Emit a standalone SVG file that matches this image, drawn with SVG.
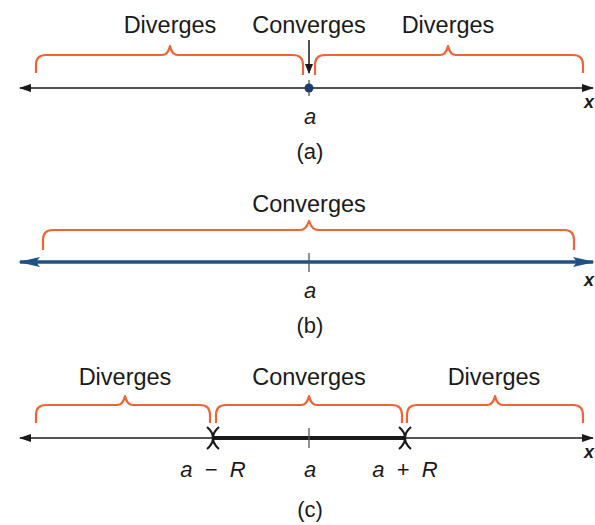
<svg xmlns="http://www.w3.org/2000/svg" width="595" height="525" viewBox="0 0 595 525">
<defs>
<style>
.lbl{font-family:"Liberation Sans",Arial,sans-serif;font-size:23.5px;fill:#1a1a1a;text-anchor:middle}
.var{font-family:"Liberation Sans",Arial,sans-serif;font-size:22px;font-style:italic;fill:#1a1a1a;text-anchor:middle}
.cap{font-family:"Liberation Sans",Arial,sans-serif;font-size:22px;fill:#1a1a1a;text-anchor:middle}
.xl{font-family:"Liberation Sans",Arial,sans-serif;font-size:18px;font-style:italic;font-weight:bold;fill:#1a1a1a}
.brace{fill:none;stroke:#ee6433;stroke-width:2.2;stroke-linejoin:round}
.axis{fill:none;stroke:#1a1a1a;stroke-width:1.6}
.axisb{fill:none;stroke:#1f5185;stroke-width:3.5}
.tick{stroke:#555;stroke-width:1.3}
.mark{fill:none;stroke:#1a1a1a;stroke-width:2.2}
</style>
<marker id="ah" viewBox="0 0 12 8" refX="11" refY="4" markerWidth="12" markerHeight="8" markerUnits="userSpaceOnUse" orient="auto-start-reverse">
<path d="M0,0 L12,4 L0,8 Z" fill="#1a1a1a"/>
</marker>
<marker id="ahb" viewBox="0 0 22 10" refX="20" refY="5" markerWidth="22" markerHeight="10" markerUnits="userSpaceOnUse" orient="auto-start-reverse">
<path d="M0,0 L22,5 L0,10 L4,5 Z" fill="#1f5185"/>
</marker>
<marker id="ahd" viewBox="0 0 10 10" refX="9" refY="5" markerWidth="10" markerHeight="10" markerUnits="userSpaceOnUse" orient="auto">
<path d="M0,1 L10,5 L0,9 Z" fill="#1a1a1a"/>
</marker>
</defs>
<rect width="595" height="525" fill="#fff"/>

<g id="panel-a">
<g id="connectors-a">
<line class="axis" x1="20" y1="88" x2="593" y2="88" marker-start="url(#ah)" marker-end="url(#ah)"/>
<line class="tick" x1="309" y1="80" x2="309" y2="96"/>
<line stroke="#1a1a1a" stroke-width="1.5" x1="309" y1="40" x2="309" y2="73" marker-end="url(#ahd)"/>
</g>
<circle id="point-a" cx="309" cy="88" r="4.5" fill="#1f3d6b"/>
<g id="brace-a-left"><path class="brace" d="M36,73 L36,65 Q36,55 46,55 L162,55 Q168,55 170,46 Q172,55 178,55 L293,55 Q303,55 303,65 L303,75"/><text class="lbl" x="170" y="33">Diverges</text></g>
<g id="brace-a-right"><path class="brace" d="M315,75 L315,65 Q315,55 325,55 L440,55 Q446,55 448,46 Q450,55 456,55 L573,55 Q583,55 583,65 L583,73"/><text class="lbl" x="448" y="33">Diverges</text></g>
<text class="lbl" x="309" y="33">Converges</text>
<text class="var" x="310" y="124">a</text>
<text class="cap" x="310" y="159">(a)</text>
<text class="xl" x="584" y="108">x</text>
</g>

<g id="panel-b">
<g id="connectors-b">
<line class="axisb" x1="20" y1="262" x2="593" y2="262" marker-start="url(#ahb)" marker-end="url(#ahb)"/>
<line class="tick" x1="309" y1="253" x2="309" y2="272"/>
</g>
<g id="brace-b"><path class="brace" d="M43,250 L43,240 Q43,230 53,230 L300,230 Q306,230 309,221 Q312,230 318,230 L564,230 Q574,230 574,240 L574,250"/><text class="lbl" x="309" y="212">Converges</text></g>
<text class="var" x="310" y="298">a</text>
<text class="cap" x="310" y="333">(b)</text>
<text class="xl" x="584" y="286">x</text>
</g>

<g id="panel-c">
<g id="connectors-c">
<line class="axis" x1="20" y1="438" x2="593" y2="438" marker-start="url(#ah)" marker-end="url(#ah)"/>
<line stroke="#1a1a1a" stroke-width="4" x1="213" y1="438" x2="405" y2="438"/>
<line class="tick" x1="309" y1="428" x2="309" y2="448"/>
</g>
<g id="mark-left"><path class="mark" d="M207,427 Q213,432 213,438 Q213,444 207,449 M219,427 Q213,432 213,438 Q213,444 219,449"/></g>
<g id="mark-right"><path class="mark" d="M399,427 Q405,432 405,438 Q405,444 399,449 M411,427 Q405,432 405,438 Q405,444 411,449"/></g>
<g id="brace-c-left"><path class="brace" d="M36,423 L36,415 Q36,405 46,405 L117,405 Q123,405 125,396 Q127,405 133,405 L200,405 Q210,405 210,415 L210,423"/><text class="lbl" x="125" y="385">Diverges</text></g>
<g id="brace-c-mid"><path class="brace" d="M216,423 L216,415 Q216,405 226,405 L301,405 Q307,405 309,396 Q311,405 317,405 L392,405 Q402,405 402,415 L402,423"/><text class="lbl" x="309" y="385">Converges</text></g>
<g id="brace-c-right"><path class="brace" d="M407,423 L407,415 Q407,405 417,405 L487,405 Q493,405 495,396 Q497,405 503,405 L573,405 Q583,405 583,415 L583,423"/><text class="lbl" x="494" y="385">Diverges</text></g>
<text class="cap" x="213" y="477" xml:space="preserve"><tspan font-style="italic">a</tspan>  −  <tspan font-style="italic">R</tspan></text>
<text class="var" x="310" y="477">a</text>
<text class="cap" x="405" y="477" xml:space="preserve"><tspan font-style="italic">a</tspan>  +  <tspan font-style="italic">R</tspan></text>
<text class="cap" x="310" y="517">(c)</text>
<text class="xl" x="584" y="458">x</text>
</g>
</svg>
